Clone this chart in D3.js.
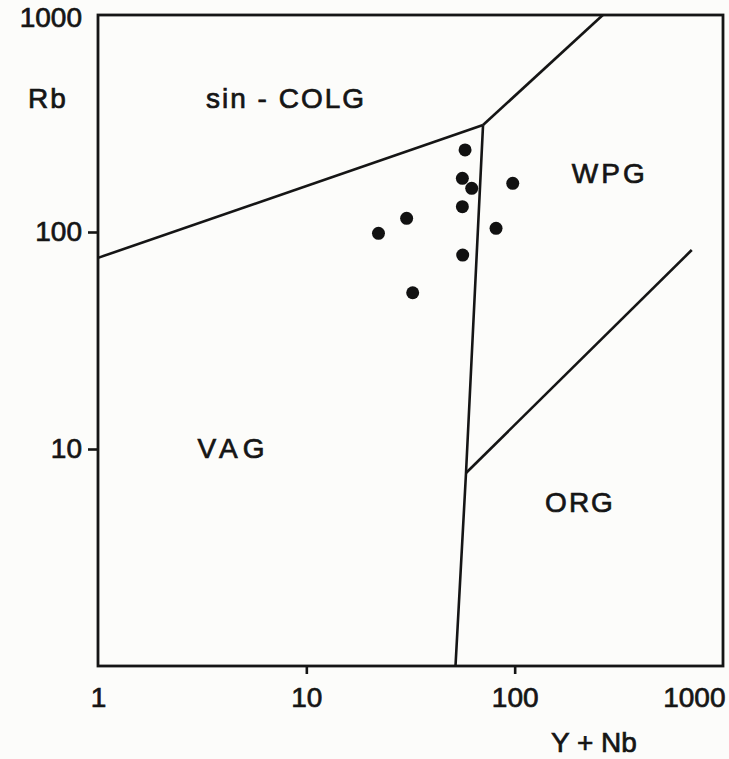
<!DOCTYPE html>
<html>
<head>
<meta charset="utf-8">
<script src="https://cdn.jsdelivr.net/npm/d3@7"></script>
<style>
  body { margin: 0; background: #fcfcfa; }
  text { font-family: "Liberation Sans", Arial, sans-serif; fill: #151515; stroke: #151515; stroke-width: 0.7px; }
</style>
</head>
<body>
<script>
// Samples (Y+Nb, Rb) in ppm
var yNb = [57.8, 56.1, 62.2, 56.1, 30.3, 22.2, 56.3, 32.4, 97.9, 81.4];
var rb  = [238.8, 176.8, 159.0, 130.8, 115.6, 98.6, 78.3, 52.5, 167.6, 104.0];

// Field boundaries, as [Y+Nb, Rb] vertices
var colgVag = [[1, 76], [70.5, 311]];
var colgWpg = [[70.5, 311], [265, 1000]];
var vagWpg  = [[70.5, 311], [58.4, 7.75], [52, 1]];
var wpgOrg  = [[58.4, 7.75], [708, 82.6]];

// Field names and where they sit (in data units)
var fieldNames = ["sin - COLG", "WPG", "VAG", "ORG"];
var fieldX = [3.3, 188, 3.0, 140];
var fieldY = [372, 168, 9.1, 5.1];
var fieldSpacing = [2, 3, 5, 2];

// Tick labels
var xTicks = [1, 10, 100, 1000];
var yTicks = [10, 100, 1000];

var width = 729, height = 759;
var margin = {left: 98, right: 6, top: 15, bottom: 93};

var svg = d3.select("body").append("svg")
    .attr("width", width)
    .attr("height", height);

var x = d3.scaleLog().domain([1, 1000]).range([margin.left, width - margin.right]);
var y = d3.scaleLog().domain([1, 1000]).range([height - margin.bottom, margin.top]);

// x axis
var xAxis = svg.append("g")
    .attr("transform", "translate(0," + y(1) + ")")
    .call(d3.axisBottom(x).tickValues(xTicks).tickFormat(d3.format("d")).tickSize(8).tickPadding(13));

// y axis
var yAxis = svg.append("g")
    .attr("transform", "translate(" + x(1) + ",0)")
    .call(d3.axisLeft(y).tickValues(yTicks).tickFormat(d3.format("d")).tickSize(10).tickPadding(6));

[xAxis, yAxis].forEach(function(ax) {
  ax.select(".domain").remove();
  ax.selectAll("text")
      .style("font-size", "28px")
      .style("font-family", "'Liberation Sans', Arial, sans-serif")
      .attr("fill", "#151515");
  ax.selectAll("line").attr("stroke", "#151515").attr("stroke-width", 2.6);
});

// no tick marks at the corners
xAxis.selectAll(".tick").filter(function(d) { return d == 1 || d == 1000; }).select("line").remove();
yAxis.selectAll(".tick").filter(function(d) { return d == 1000; }).select("line").remove();
xAxis.selectAll(".tick").filter(function(d) { return d == 1000; }).select("text")
    .attr("text-anchor", "end").attr("dx", 2);
yAxis.selectAll(".tick").filter(function(d) { return d == 1000; }).select("text")
    .attr("dy", "0.4em");

// frame
svg.append("rect")
    .attr("x", x(1))
    .attr("y", y(1000))
    .attr("width", x(1000) - x(1))
    .attr("height", y(1) - y(1000))
    .attr("fill", "none")
    .attr("stroke", "#151515")
    .attr("stroke-width", 2.8);

// field boundaries
var line = d3.line()
    .x(function(d) { return x(d[0]); })
    .y(function(d) { return y(d[1]); });

[colgVag, colgWpg, vagWpg, wpgOrg].forEach(function(b) {
  svg.append("path")
      .attr("d", line(b))
      .attr("fill", "none")
      .attr("stroke", "#151515")
      .attr("stroke-width", 2.6)
      .attr("stroke-linejoin", "round");
});

// field names
for (var i = 0; i < fieldNames.length; i++) {
  svg.append("text")
      .attr("x", x(fieldX[i]))
      .attr("y", y(fieldY[i]))
      .style("font-size", "28px")
      .style("letter-spacing", fieldSpacing[i] + "px")
      .text(fieldNames[i]);
}

// samples
for (var j = 0; j < yNb.length; j++) {
  svg.append("circle")
      .attr("cx", x(yNb[j]))
      .attr("cy", y(rb[j]))
      .attr("r", 6.5)
      .attr("fill", "#111");
}

// axis titles
svg.append("text")
    .attr("x", 28)
    .attr("y", 108)
    .style("font-size", "28px")
    .style("letter-spacing", "2px")
    .text("Rb");

svg.append("text")
    .attr("x", 551)
    .attr("y", 752)
    .style("font-size", "28px")
    .text("Y + Nb");
</script>
</body>
</html>
